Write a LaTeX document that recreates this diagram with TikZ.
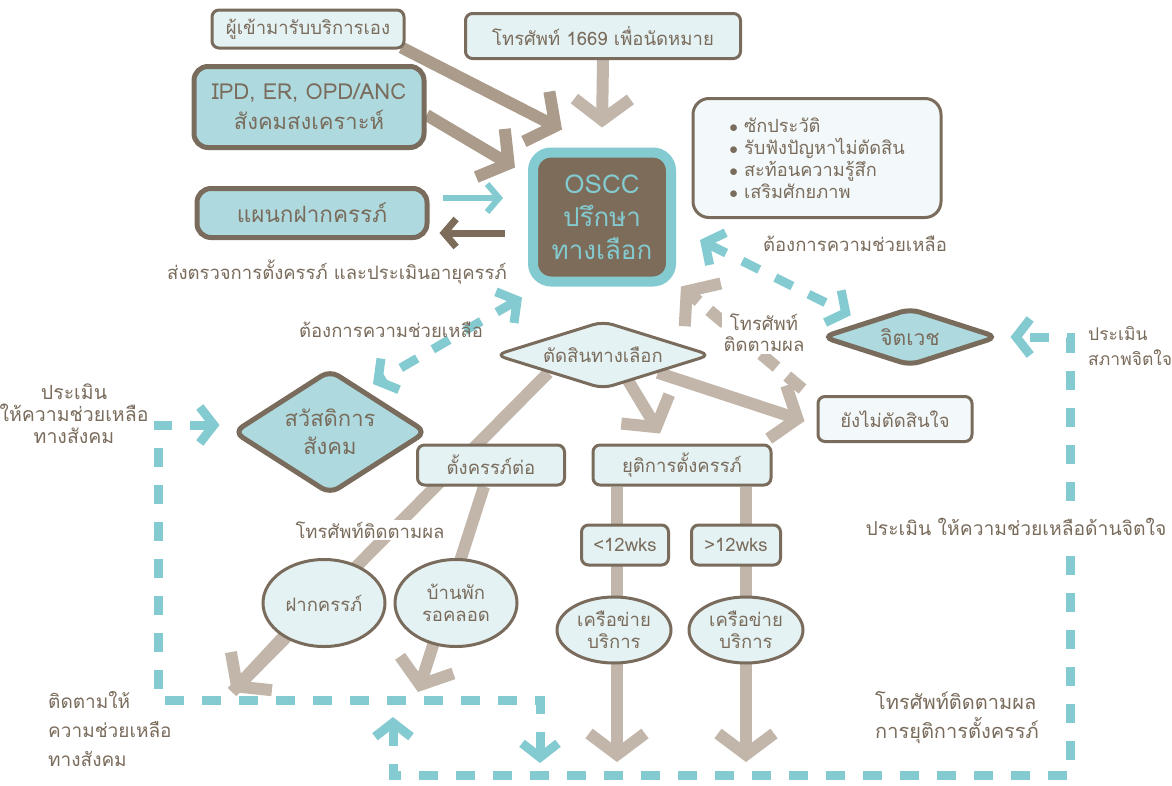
\documentclass[tikz,border=0pt]{standalone}
\usepackage{fontspec}
\setmainfont[Script=Thai]{Loma}
\usetikzlibrary{shapes.geometric,arrows.meta,calc,backgrounds}

\definecolor{txtbrown}{RGB}{122,108,92}
\definecolor{hubbrown}{RGB}{125,108,89}
\definecolor{tealline}{RGB}{132,203,209}
\definecolor{tealfill}{RGB}{174,218,223}
\definecolor{palefill}{RGB}{228,242,243}
\definecolor{whitefill}{RGB}{243,249,250}
\definecolor{graylt}{RGB}{194,182,170}
\definecolor{graydk}{RGB}{170,155,138}

\begin{document}
\begin{tikzpicture}[x=1pt,y=-1pt,
    every node/.style={text=txtbrown,font=\fontsize{18.5}{22}\selectfont},
    box/.style={draw=txtbrown,line width=3pt,rounded corners=7pt,fill=palefill,inner sep=0pt},
    heavybox/.style={box,line width=5pt,fill=tealfill,rounded corners=14pt},
    choice/.style={diamond,draw=txtbrown,line width=3pt,fill=palefill,rounded corners=10pt,
                   inner sep=0pt,align=center},
    heavychoice/.style={choice,line width=5pt,fill=tealfill},
    place/.style={ellipse,draw=txtbrown,line width=3pt,fill=palefill,inner sep=0pt,align=center},
    note/.style={align=center,inner sep=2pt},
    flow/.style={draw=graylt,line width=12pt,>={Straight Barb[sharp,length=21pt,width=56pt]},->},
    darkflow/.style={flow,draw=graydk},
    help/.style={draw=tealline,line width=9pt,dash pattern=on 19pt off 18pt,
                 >={Straight Barb[sharp,length=14pt,width=36pt]},<->}]
\useasboundingbox (0,0) rectangle (1172,785);

% entry points
\node[box,minimum width=192pt,minimum height=38pt] (self) at (308,29) {ผู้เข้ามารับบริการเอง};
\node[box,minimum width=275pt,minimum height=45pt] (call) at (603,36) {โทรศัพท์ 1669 เพื่อนัดหมาย};
\node[heavybox,minimum width=230pt,minimum height=81pt,align=center,
      font=\fontsize{22}{30}\selectfont] (ipd) at (309,107) {IPD, ER, OPD/ANC\\สังคมสงเคราะห์};
\node[heavybox,minimum width=230pt,minimum height=49pt,font=\fontsize{22.5}{26}\selectfont] (anc) at (312,213) {แผนกฝากครรภ์};
\node[box,fill=whitefill,rounded corners=16pt,minimum width=248pt,minimum height=119pt,
      align=left,font=\fontsize{18.2}{22}\selectfont] (tips) at (817,158)
      {$\bullet$\ ซักประวัติ\\$\bullet$\ รับฟังปัญหาไม่ตัดสิน\\$\bullet$\ สะท้อนความรู้สึก\\$\bullet$\ เสริมศักยภาพ};

% the centre
\node[draw=tealline,line width=10pt,fill=hubbrown,rounded corners=18pt,minimum width=138pt,
      minimum height=129pt,align=center,text=tealline,font=\fontsize{26}{33}\selectfont] (oscc) at (602,217)
      {OSCC\\ปรึกษา\\ทางเลือก};

\node[note] (sendnote) at (337,272) {ส่งตรวจการตั้งครรภ์ และประเมินอายุครรภ์};
\node[note] (needR) at (855,244) {ต้องการความช่วยเหลือ};
\node[note] (needL) at (391,330) {ต้องการความช่วยเหลือ};

% decisions
\node[choice,aspect=3.2,minimum width=216pt,minimum height=68pt] (decide) at (603,355) {ตัดสินทางเลือก};
\node[heavychoice,aspect=3,minimum width=176pt,minimum height=58pt,font=\fontsize{21}{24}\selectfont] (psych) at (910,337) {จิตเวช};
\node[heavychoice,aspect=1.55,minimum width=194pt,minimum height=125pt,
      font=\fontsize{22}{28}\selectfont] (welfare) at (330,432) {สวัสดิการ\\สังคม};
\node[note,fill=white,font=\fontsize{18.5}{21}\selectfont] (callnote) at (764,333) {โทรศัพท์\\ติดตามผล};

\node[box,fill=whitefill,minimum width=154pt,minimum height=45pt] (undecided) at (895,419) {ยังไม่ตัดสินใจ};
\node[box,minimum width=147pt,minimum height=40pt] (keep) at (491,465) {ตั้งครรภ์ต่อ};
\node[box,minimum width=178pt,minimum height=40pt] (stop) at (682,465) {ยุติการตั้งครรภ์};

\node[note,fill=white] (callf) at (370,530) {โทรศัพท์ติดตามผล};
\node[place,minimum width=122pt,minimum height=87pt] (clinic) at (324,603) {ฝากครรภ์};
\node[place,minimum width=122pt,minimum height=87pt] (shelter) at (456,603) {บ้านพัก\\รอคลอด};

\node[box,minimum width=87pt,minimum height=40pt] (early) at (625,545) {<12wks};
\node[box,minimum width=89pt,minimum height=40pt] (late) at (736,545) {>12wks};
\node[place,minimum width=114pt,minimum height=66pt] (netA) at (614,630) {เครือข่าย\\บริการ};
\node[place,minimum width=114pt,minimum height=66pt] (netB) at (746,630) {เครือข่าย\\บริการ};

% side notes
\node[note,fill=white,font=\fontsize{19.3}{24}\selectfont] (mindnote) at (1016,527) {ประเมิน ให้ความช่วยเหลือด้านจิตใจ};
\node[note,anchor=west,align=left,font=\fontsize{20}{29}\selectfont] (stopnote) at (873,718)
      {โทรศัพท์ติดตามผล\\การยุติการตั้งครรภ์};
\node[note,anchor=west,align=left,font=\fontsize{17.5}{25}\selectfont] (assessnote) at (1086,346)
      {ประเมิน\\สภาพจิตใจ};
\node[note,font=\fontsize{19.5}{22}\selectfont] (socialnote) at (74,414)
      {ประเมิน\\ให้ความช่วยเหลือ\\ทางสังคม};
\node[note,anchor=west,align=left,font=\fontsize{19}{29}\selectfont] (follownote) at (46,729)
      {ติดตามให้\\ความช่วยเหลือ\\ทางสังคม};

\coordinate (clinictip) at (232,692);
\coordinate (sheltertip) at (418,692);
\coordinate (earlytip) at (617,762);
\coordinate (latetip) at (746,762);
\coordinate (loopL) at (158,700);
\coordinate (loopdown) at (540,763);
\coordinate (loopup) at (393,717);
\coordinate (loopR) at (1070,775);

\begin{scope}[on background layer]
\fill[white] (0,0) rectangle (1172,785);
% into the centre
\draw[darkflow] ($(self.south east)+(-4,-2)$) -- ($(oscc.north west)+(34,-18)$);
\draw[darkflow] ($(ipd.east)+(0,8)$) -- ($(oscc.north west)+(-13,20)$);
\draw[flow] (call.south) -- ($(oscc.north)+(0,-20)$);
\draw[draw=tealline,line width=6pt,->,>={Straight Barb[sharp,length=12pt,width=28pt]}]
     ($(anc.east)+(13,-15)$) -- ($(oscc.west)+(-25,-19)$);
\draw[draw=hubbrown,line width=7pt,->,>={Straight Barb[sharp,length=12pt,width=28pt]}]
     ($(oscc.west)+(-23,16)$) -- ($(anc.east)+(10,20)$);
% choices
\draw[flow,-] (decide.south west) -- (clinictip);
\draw[flow] ($(clinic.south west)+(10,-5)$) -- (clinictip);
\draw[flow] ($(keep.south)+(-7,0)$) -- (sheltertip);
\draw[flow] ($(decide.south)+(25,-10)$) -- ($(stop.north)+(-22,-10)$);
\draw[flow] (decide.south east) -- ($(undecided.west)+(-12,2)$);
\draw[flow,dash pattern=on 20pt off 14pt] ($(undecided.north west)+(-14,-6)$) -- ($(oscc.south east)+(5,0)$);
\draw[flow] (stop.south -| earlytip) -- (earlytip);
\draw[flow] (stop.south -| latetip) -- (latetip);
% help routes
\draw[help] ($(oscc.south west)+(-6,11)$) -- ($(welfare.north)+(43,17)$);
\draw[help] ($(oscc.east)+(24,23)$) -- ($(psych.north west)+(-14,-6)$);
\draw[help] ($(welfare.west)+(-11,-7)$) -| (loopL) -| (loopdown);
\draw[help] (loopup) |- (loopR) |- ($(psych.east)+(10,0)$);
\end{scope}
\end{tikzpicture}
\end{document}
